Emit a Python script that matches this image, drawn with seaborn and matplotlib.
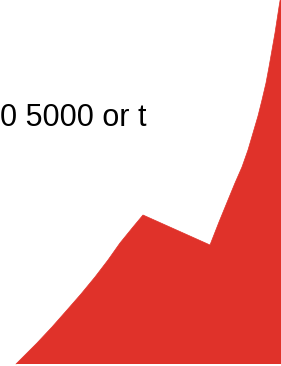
import matplotlib
matplotlib.use("Agg")
import matplotlib.pyplot as plt
import seaborn as sns
import pandas as pd

# Area outline (x position, height above baseline)
x_vals = [16, 26, 37, 52, 67, 81, 95, 108, 120, 133, 138, 143,
          210, 219, 228, 235, 242, 248, 253, 258, 262, 266, 269, 272, 275, 277, 279, 282]
heights = [0, 10, 21, 37, 54, 70, 87, 104, 121, 137, 143, 149,
           119, 142, 164, 181, 197, 214, 231, 248, 264, 281, 297, 314, 331, 344, 357, 375]
label_text = "0 5000 or t"
fill_color = "#e0322a"

df = pd.DataFrame({"x": x_vals, "h": heights})

sns.set_theme(style="white")
plt.rcParams["font.family"] = ["Liberation Sans", "DejaVu Sans"]

fig = plt.figure(figsize=(2.81, 3.66), dpi=100)
ax = fig.add_axes([0, 0, 1, 1])

sns.lineplot(data=df, x="x", y="h", ax=ax, color=fill_color, linewidth=0.5)
ax.fill_between(df["x"], df["h"], 0, color=fill_color, linewidth=0)

ax.set_xlim(0, 281)
ax.set_ylim(-2, 364)
ax.axis("off")

fig.text(-0.5 / 281, 1 - 126 / 366, label_text, fontsize=22, va="baseline",
         ha="left", color="black")

fig.savefig("out.png", dpi=100, facecolor="white")
